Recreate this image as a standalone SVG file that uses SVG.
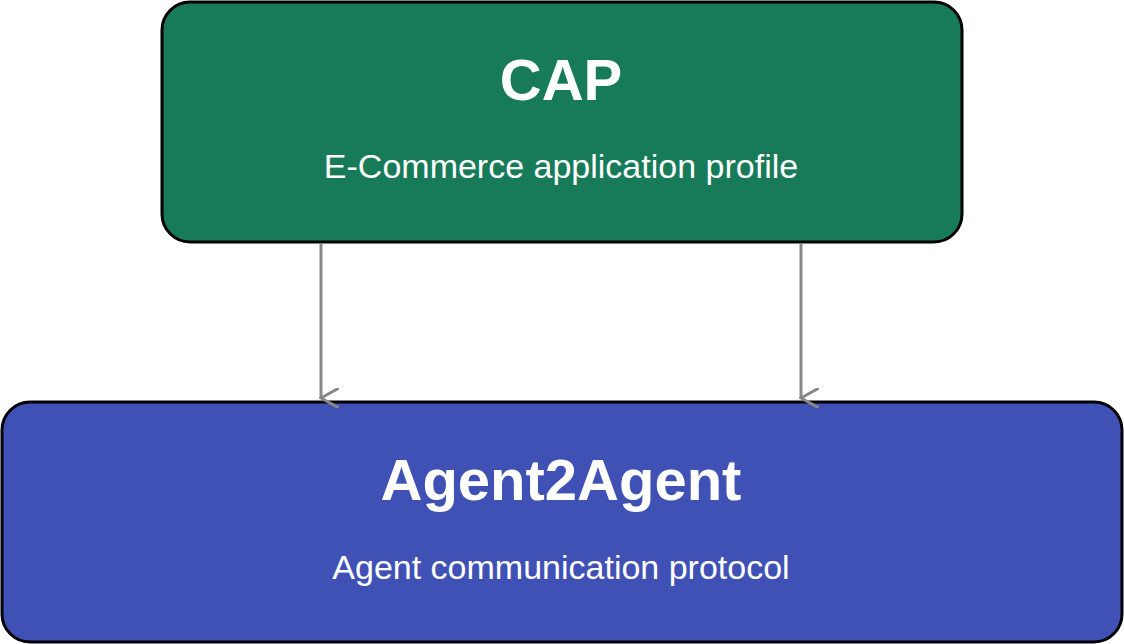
<svg xmlns="http://www.w3.org/2000/svg" width="1124" height="644" viewBox="0 0 1124 644">
<style>
.box{stroke:#000;stroke-width:3}
.t{font-family:"Liberation Sans",Arial,sans-serif;fill:#fff;text-anchor:middle}
.h{font-weight:bold;font-size:58px}
.s{font-size:34px}
.c{stroke:#888;stroke-width:3;fill:none}
</style>
<defs><marker id="a" viewBox="0 0 20 20" refX="10" refY="18" markerWidth="20" markerHeight="20" markerUnits="userSpaceOnUse" orient="auto-start-reverse"><path d="M0 0 L10 18 L20 0" fill="none" stroke="#888" stroke-width="3"/></marker></defs>
<rect width="1124" height="644" fill="#fff"/>
<g id="cap"><rect class="box" x="162" y="2" width="800" height="240" rx="28" fill="#177a58"/>
<text class="t h" x="561" y="100">CAP</text>
<text class="t s" x="561" y="178">E-Commerce application profile</text></g>
<g id="a2a"><rect class="box" x="2" y="402" width="1120" height="240" rx="28" fill="#3f51b5"/>
<text class="t h" x="561" y="500">Agent2Agent</text>
<text class="t s" x="561" y="579">Agent communication protocol</text></g>
<g id="connectors">
<path class="c" d="M321 243 V398" marker-end="url(#a)" transform="rotate(0)"/>
<path class="c" d="M801 243 V398" marker-end="url(#a)"/>
</g>
</svg>
